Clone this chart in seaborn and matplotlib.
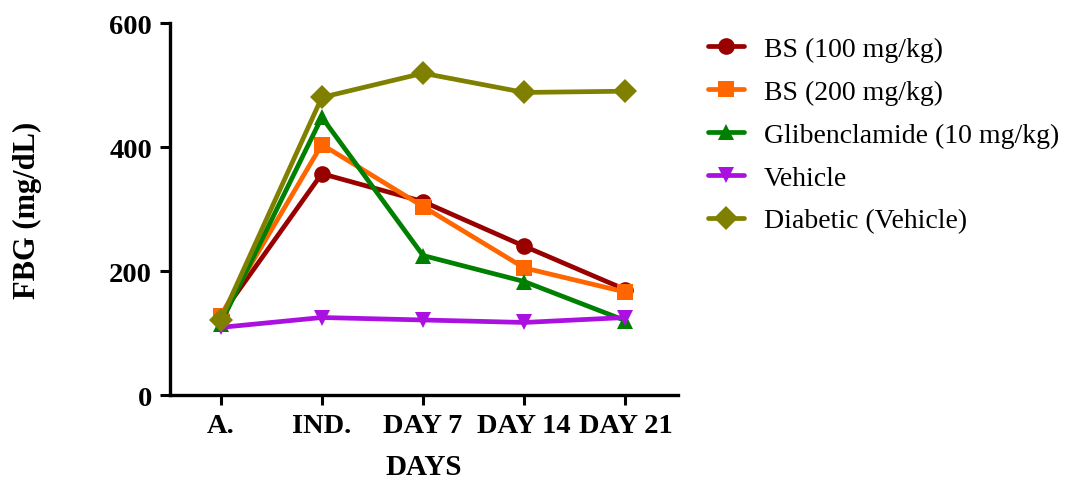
import pandas as pd
import matplotlib
matplotlib.use("Agg")
import matplotlib.pyplot as plt
import seaborn as sns

# Podaci procitani sa grafikona
days = ["A.", "IND.", "DAY 7", "DAY 14", "DAY 21"]
groups = ["BS (100 mg/kg)", "BS (200 mg/kg)", "Glibenclamide (10 mg/kg)",
          "Vehicle", "Diabetic (Vehicle)"]
bs100 = [128, 357, 312, 240, 170]
bs200 = [128, 404, 304, 205, 166]
glib = [115, 448, 225, 183, 120]
vehicle = [109, 125, 121, 117, 125]
diabetic = [121, 480, 519, 488, 490]

colors = ["#990000", "#FF6600", "#008000", "#AA10E0", "#808000"]
markers = ["o", "s", "^", "v", "D"]

rows = []
for g, vals in zip(groups, [bs100, bs200, glib, vehicle, diabetic]):
    for i, v in enumerate(vals):
        rows.append({"day": i, "FBG": v, "group": g})
df = pd.DataFrame(rows)

sns.set_style("ticks")
plt.rcParams["font.family"] = ["Liberation Serif", "DejaVu Serif"]
for k in ["text.color", "axes.labelcolor", "xtick.color", "ytick.color", "axes.edgecolor"]:
    plt.rcParams[k] = "black"

fig = plt.figure(figsize=(10.79, 4.85), dpi=100)
ax = fig.add_axes([0.1576, 0.1835, 0.4708, 0.767])

sns.lineplot(data=df, x="day", y="FBG", hue="group", style="group",
             hue_order=groups, style_order=groups,
             palette=colors, markers=markers, dashes=False,
             linewidth=3.4, markersize=12, markeredgewidth=0, ax=ax)

ax.set_xlim(-0.5, 4.52)
ax.set_ylim(0, 600)
ax.set_xticks(range(len(days)))
ax.set_xticklabels(days)
ax.set_yticks([0, 200, 400, 600])
for lab in ax.get_xticklabels() + ax.get_yticklabels():
    lab.set_fontweight("bold")
    lab.set_fontsize(20.5)
ax.tick_params(axis="both", width=2.2, length=7, pad=6)
for s in ["left", "bottom"]:
    ax.spines[s].set_linewidth(2.4)
sns.despine(ax=ax)

ax.set_xlabel("DAYS", fontsize=21, fontweight="bold", labelpad=11)
ax.set_ylabel("FBG (mg/dL)", fontsize=22, fontweight="bold", labelpad=48)

handles, labels = ax.get_legend_handles_labels()
ax.legend_.remove()
fig.legend(handles, labels, loc="upper left", bbox_to_anchor=(0.646, 0.946),
           frameon=False, fontsize=20, handlelength=1.3, handletextpad=0.7,
           labelspacing=0.63, borderaxespad=0)

fig.savefig("out.png", dpi=100)
